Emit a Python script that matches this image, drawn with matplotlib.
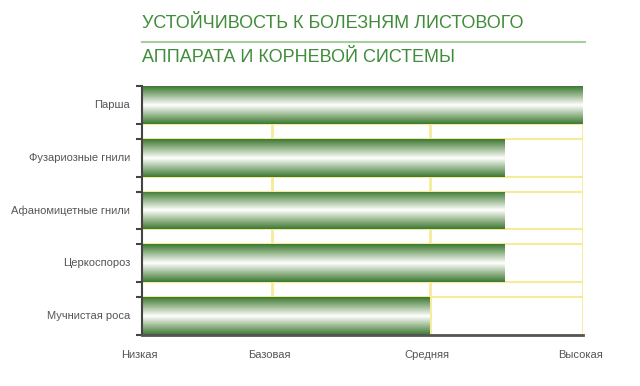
import numpy as np
import matplotlib
matplotlib.use("Agg")
import matplotlib.pyplot as plt
from matplotlib.colors import LinearSegmentedColormap

# Resistance of the variety to leaf and root diseases
diseases = ["Парша", "Фузариозные гнили", "Афаномицетные гнили", "Церкоспороз", "Мучнистая роса"]
scores = [100, 82.3, 82.3, 82.3, 65.3]
level_labels = ["Низкая", "Базовая", "Средняя", "Высокая"]
level_pos = [0, 29.5, 65.3, 100]

title_1 = "УСТОЙЧИВОСТЬ К БОЛЕЗНЯМ ЛИСТОВОГО"
title_2 = "АППАРАТА И КОРНЕВОЙ СИСТЕМЫ"

green = "#3b7832"
grid_yellow = "#f7ea98"
tick_gray = "#555555"

fig = plt.figure(figsize=(6.4, 3.86), dpi=100)
ax = fig.add_axes([142 / 640, 1 - 335 / 386, 441 / 640, 249 / 386])

bar_h = 0.72
ypos = np.arange(len(diseases))[::-1]
bars = ax.barh(ypos, scores, height=bar_h, color="none", edgecolor="none", zorder=3)

# green -> white -> green vertical gradient inside each bar
cmap = LinearSegmentedColormap.from_list("stem", [green, "#9dbb93", "#ffffff", "#9dbb93", green])
grad = np.linspace(0, 1, 256).reshape(-1, 1)
for b in bars:
    x0, y0 = b.get_x(), b.get_y()
    w, h = b.get_width(), b.get_height()
    im = ax.imshow(grad, cmap=cmap, aspect="auto", extent=(x0, x0 + w, y0, y0 + h),
                   zorder=3, interpolation="bilinear")
    im.set_clip_path(b)

ax.set_xlim(0, 100)
ax.set_ylim(ypos.min() - bar_h / 2, ypos.max() + bar_h / 2)

# grid: verticals at level marks, horizontals at bar edges
for xv in level_pos[1:]:
    ax.axvline(xv, color=grid_yellow, lw=2, zorder=1)
edges = sorted(set(np.concatenate([ypos - bar_h / 2, ypos + bar_h / 2])))
for e in edges:
    ax.axhline(e, color=grid_yellow, lw=1.5, zorder=1)

ax.set_yticks(edges)
ax.set_yticklabels([])
ax.tick_params(axis="y", direction="out", length=4, width=1.5, color="#444444")
for y, name in zip(ypos, diseases):
    ax.text(-12 / 441 * 100, y, name, ha="right", va="center", fontsize=8,
            color=tick_gray, family="Liberation Sans")

ax.set_xticks([])
for xv, lab in zip(level_pos, level_labels):
    ax.text(xv - 0.6, -0.36 - 20 / 52.75, lab, ha="center", va="center", fontsize=8,
            color=tick_gray, family="Liberation Sans")

for s in ["top", "right"]:
    ax.spines[s].set_visible(False)
ax.spines["left"].set_color("#444444")
ax.spines["left"].set_linewidth(1.5)
ax.spines["bottom"].set_color("#555555")
ax.spines["bottom"].set_linewidth(2)
ax.spines["left"].set_zorder(4)
ax.spines["bottom"].set_zorder(4)

fig.text(142 / 640, 1 - 23 / 386, title_1, ha="left", va="center", fontsize=13,
         color="#3f8c3a", family="Liberation Sans")
fig.text(142 / 640, 1 - 58 / 386, title_2, ha="left", va="center", fontsize=13,
         color="#3f8c3a", family="Liberation Sans")
fig.add_artist(plt.Line2D([142 / 640, 585 / 640], [1 - 42 / 386, 1 - 42 / 386],
                          color="#a6cf9f", lw=1.5))

fig.savefig("out.png", dpi=100)
